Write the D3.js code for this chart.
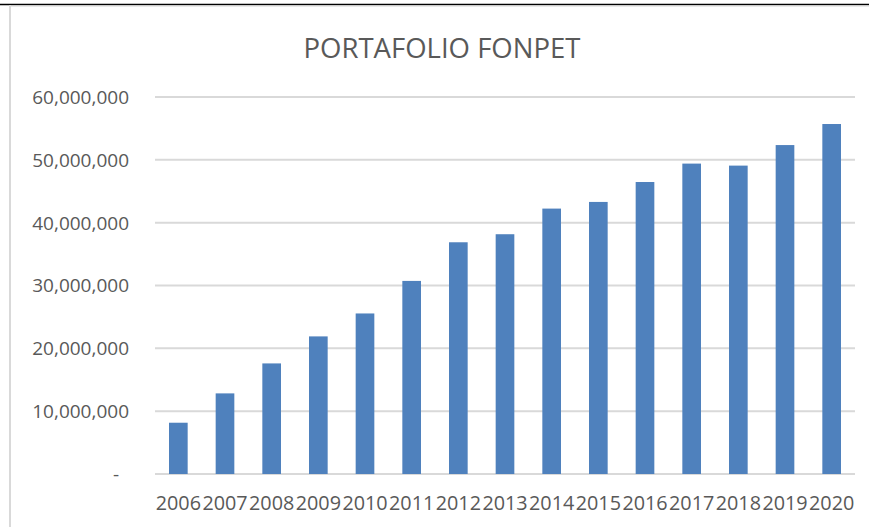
<!DOCTYPE html>
<html>
<head>
<meta charset="utf-8">
<script src="https://cdn.jsdelivr.net/npm/d3@7"></script>
<style>
  body { margin: 0; background: #fff; }
  text { font-family: "Open Sans", "Noto Sans", sans-serif; fill: #595959; }
</style>
</head>
<body>
<script>
// data
var years = ["2006", "2007", "2008", "2009", "2010", "2011", "2012", "2013",
             "2014", "2015", "2016", "2017", "2018", "2019", "2020"];
var portafolio = [8160000, 12830000, 17600000, 21900000, 25550000, 30730000, 36880000, 38160000,
                  42240000, 43300000, 46470000, 49400000, 49080000, 52350000, 55700000];
var yTicks = [0, 10000000, 20000000, 30000000, 40000000, 50000000, 60000000];
var title = "PORTAFOLIO FONPET";

function drawChart() {
    var w = 869, h = 527;
    var plotLeft = 155, plotRight = 855, plotTop = 97, plotBottom = 474;

    var svg = d3.select("body").append("svg")
        .attr("width", w)
        .attr("height", h);

    // frame bits from the screenshot
    svg.append("line").attr("x1", 0).attr("x2", w).attr("y1", 4.5).attr("y2", 4.5)
        .attr("stroke", "#000").attr("stroke-width", 1.6);
    svg.append("line").attr("x1", 10).attr("x2", w).attr("y1", 6.2).attr("y2", 6.2)
        .attr("stroke", "#e0e0e0").attr("stroke-width", 1);
    svg.append("line").attr("x1", 10).attr("x2", 10).attr("y1", 5).attr("y2", h)
        .attr("stroke", "#d9d9d9").attr("stroke-width", 2);

    var x = d3.scaleBand()
        .domain(years)
        .range([plotLeft, plotRight])
        .paddingInner(0.6)
        .paddingOuter(0.3);

    var y = d3.scaleLinear()
        .domain([0, 60000000])
        .range([plotBottom, plotTop]);

    // gridlines
    svg.append("g")
        .selectAll("line")
        .data(yTicks)
        .enter()
        .append("line")
        .attr("x1", plotLeft)
        .attr("x2", plotRight)
        .attr("y1", function(d) { return y(d); })
        .attr("y2", function(d) { return y(d); })
        .attr("stroke", "#d9d9d9")
        .attr("stroke-width", 2);

    // y labels
    svg.append("g")
        .selectAll("text")
        .data(yTicks)
        .enter()
        .append("text")
        .attr("x", function(d) { return d === 0 ? 119 : 129; })
        .attr("y", function(d) { return y(d); })
        .attr("dy", "0.36em")
        .attr("text-anchor", "end")
        .attr("font-size", "19px")
        .text(function(d) { return d === 0 ? "-" : d3.format(",")(d); });

    // bars
    svg.append("g")
        .selectAll("rect")
        .data(portafolio)
        .enter()
        .append("rect")
        .attr("x", function(d, i) { return x(years[i]); })
        .attr("y", function(d) { return y(d); })
        .attr("width", x.bandwidth())
        .attr("height", function(d) { return plotBottom - y(d); })
        .attr("fill", "#4f81bd");

    // x labels
    svg.append("g")
        .selectAll("text")
        .data(years)
        .enter()
        .append("text")
        .attr("x", function(d) { return x(d) + x.bandwidth() / 2; })
        .attr("y", 510)
        .attr("text-anchor", "middle")
        .attr("font-size", "19.8px")
        .text(function(d) { return d; });

    // title
    svg.append("text")
        .attr("x", 442)
        .attr("y", 57.5)
        .attr("text-anchor", "middle")
        .attr("font-size", "27.5px")
        .text(title);
}

drawChart();
</script>
</body>
</html>
